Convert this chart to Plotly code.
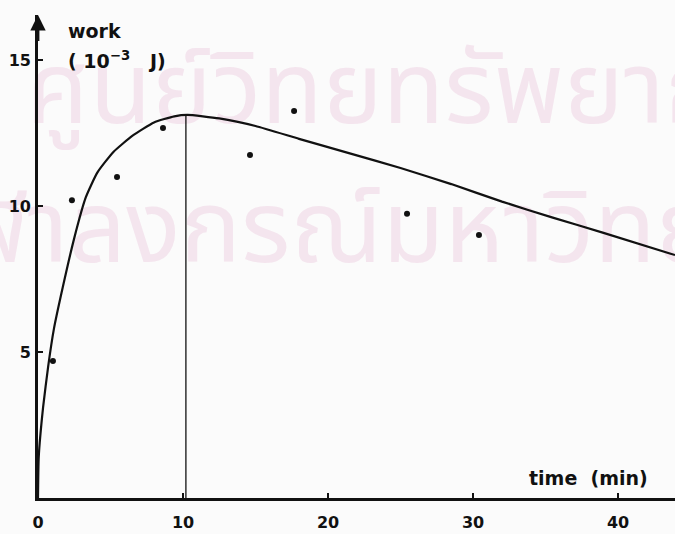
import plotly.graph_objects as go

# ---- data ----
point_time = [1.03, 2.34, 5.45, 8.62, 14.62, 17.66, 25.45, 30.41]
point_work = [4.69, 10.2, 10.99, 12.67, 11.75, 13.25, 9.73, 9.01]

curve_time = [0.0, 0.05, 0.35, 0.7, 1.1, 1.7, 2.5, 3.3, 4.1, 5.2, 6.5, 8.0,
              9.4, 10.3, 12.5, 15.0, 18.0, 21.5, 25.0, 28.5, 32.0, 35.5, 39.0, 43.93]
curve_work = [0.0, 1.4, 3.1, 4.5, 5.8, 7.2, 8.9, 10.3, 11.15, 11.85, 12.4, 12.86,
              13.07, 13.12, 13.0, 12.74, 12.3, 11.8, 11.3, 10.75, 10.15, 9.6, 9.08, 8.32]

peak_time = 10.2
peak_work = 13.12

x_tick_vals = [0, 10, 20, 30, 40]
x_tick_text = ["0", "10", "20", "30", "40"]
y_tick_vals = [5, 10, 15]
y_tick_text = ["5", "10", "15"]

watermark_lines = ["ศูนย์วิทยทรัพยากร", "จุฬาลงกรณ์มหาวิทยาลัย"]

INK = "#111111"
TICKFONT = dict(family="DejaVu Sans, Liberation Sans, sans-serif", size=16, color=INK, weight=700)
LABELFONT = dict(family="DejaVu Sans, Liberation Sans, sans-serif", size=19, color=INK, weight=700)
THAI = "Noto Sans Thai, Loma, Garuda, Norasi, Tlwg Typo, DejaVu Sans, sans-serif"
NB = "\u00a0"

fig = go.Figure()

# watermark (drawn first so it stays beneath the marks)
fig.add_trace(go.Scatter(
    x=[25.0, 24.3], y=[13.7, 8.95], mode="text",
    text=watermark_lines, textposition="middle center",
    textfont=dict(family=THAI, size=101, color="#f4e5ee"),
    hoverinfo="skip", showlegend=False, cliponaxis=False,
))

# fitted curve
fig.add_trace(go.Scatter(
    x=curve_time, y=curve_work, mode="lines",
    line=dict(color=INK, width=2.2, shape="spline", smoothing=0.5),
    hoverinfo="skip", showlegend=False, cliponaxis=False,
))

# vertical line at the maximum
fig.add_trace(go.Scatter(
    x=[peak_time, peak_time], y=[0, peak_work], mode="lines",
    line=dict(color=INK, width=1.3),
    hoverinfo="skip", showlegend=False,
))

# measured points
fig.add_trace(go.Scatter(
    x=point_time, y=point_work, mode="markers",
    marker=dict(color=INK, size=6),
    showlegend=False,
))

# arrow head on top of the y axis
fig.add_annotation(
    x=0, y=16.54, ax=0, ay=15.6, xref="x", yref="y", axref="x", ayref="y",
    text="", showarrow=True, arrowhead=2, arrowsize=1.1, arrowwidth=2.8,
    arrowcolor=INK, standoff=0,
)

fig.add_annotation(x=1.9, y=16.0, xref="x", yref="y", text="work",
                   showarrow=False, xanchor="left", yanchor="middle", font=LABELFONT)
fig.add_annotation(x=1.9, y=15.0, xref="x", yref="y",
                   text="(" + NB + "10<sup>−3</sup>" + NB * 3 + "J)",
                   showarrow=False, xanchor="left", yanchor="middle", font=LABELFONT)
fig.add_annotation(x=42.2, y=0.68, xref="x", yref="y", text="time" + NB * 2 + "(min)",
                   showarrow=False, xanchor="right", yanchor="middle", font=LABELFONT)

fig.update_layout(
    width=675, height=534,
    margin=dict(l=38, r=0, t=15, b=36),
    paper_bgcolor="#fbfbfb", plot_bgcolor="#fbfbfb",
    showlegend=False,
    xaxis=dict(range=[0, 43.93], showgrid=False, zeroline=False,
               showline=True, linecolor=INK, linewidth=2.6,
               ticks="inside", ticklen=5, tickwidth=2, tickcolor=INK,
               tickvals=x_tick_vals, ticktext=x_tick_text,
               tickfont=TICKFONT, ticklabelstandoff=8, fixedrange=True),
    yaxis=dict(range=[0, 16.54], showgrid=False, zeroline=False,
               showline=True, linecolor=INK, linewidth=2.8,
               ticks="inside", ticklen=5, tickwidth=2, tickcolor=INK,
               tickvals=y_tick_vals, ticktext=y_tick_text,
               tickfont=TICKFONT, ticklabelstandoff=1, fixedrange=True),
)

fig.write_html("out.html", config={"displayModeBar": False},
               post_script="document.body.style.margin='0';")
